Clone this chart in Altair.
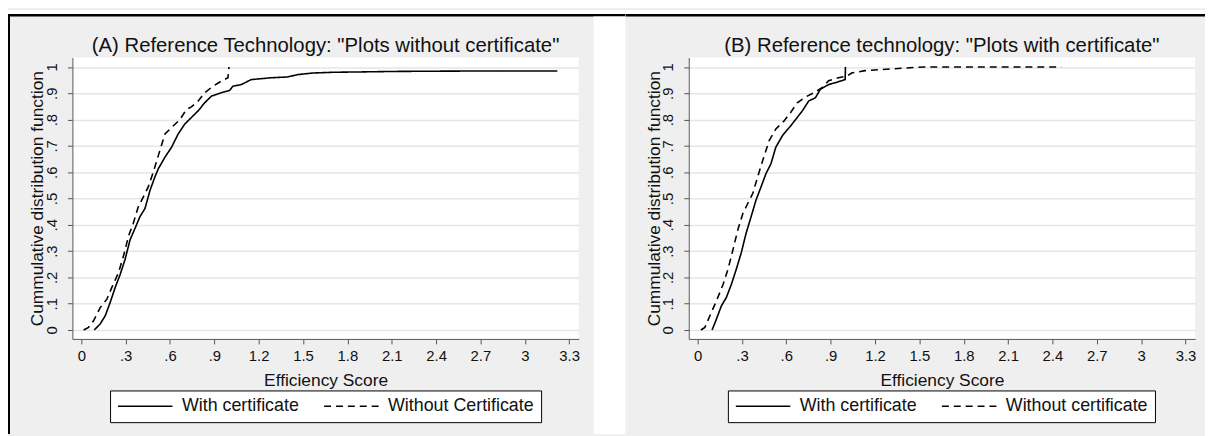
import altair as alt
import pandas as pd

# ---------------- data ----------------
x_ticks = [0, 0.3, 0.6, 0.9, 1.2, 1.5, 1.8, 2.1, 2.4, 2.7, 3.0, 3.3]
y_ticks = [0, 0.1, 0.2, 0.3, 0.4, 0.5, 0.6, 0.7, 0.8, 0.9, 1.0]

# Panel A: Reference Technology "Plots without certificate"
a_with_x = [0.088, 0.128, 0.162, 0.195, 0.229, 0.263, 0.296, 0.33, 0.364, 0.397,
            0.431, 0.465, 0.498, 0.521, 0.566, 0.611, 0.655, 0.70, 0.745, 0.79,
            0.835, 0.88, 0.947, 1.003, 1.026, 1.082, 1.149, 1.284, 1.396, 1.463,
            1.565, 1.71, 1.87, 2.1, 2.4, 2.8, 3.22]
a_with_y = [0, 0.023, 0.054, 0.104, 0.161, 0.211, 0.268, 0.343, 0.387, 0.431,
            0.462, 0.531, 0.582, 0.613, 0.657, 0.695, 0.745, 0.783, 0.808, 0.833,
            0.864, 0.889, 0.902, 0.911, 0.927, 0.933, 0.952, 0.959, 0.962, 0.971,
            0.977, 0.98, 0.981, 0.983, 0.984, 0.985, 0.985]
a_without_x = [0.016, 0.049, 0.083, 0.128, 0.173, 0.206, 0.251, 0.285, 0.319, 0.352,
               0.386, 0.42, 0.453, 0.487, 0.521, 0.566, 0.611, 0.667, 0.712, 0.745,
               0.79, 0.835, 0.891, 0.947, 0.992, 0.999]
a_without_y = [0, 0.01, 0.035, 0.085, 0.117, 0.161, 0.217, 0.28, 0.356, 0.406,
               0.469, 0.506, 0.544, 0.60, 0.663, 0.745, 0.77, 0.80, 0.839, 0.848,
               0.87, 0.902, 0.927, 0.946, 0.959, 1.0]

# Panel B: Reference technology "Plots with certificate"
b_with_x = [0.098, 0.127, 0.161, 0.194, 0.228, 0.261, 0.295, 0.328, 0.362, 0.395,
            0.429, 0.462, 0.496, 0.529, 0.574, 0.629, 0.663, 0.708, 0.752, 0.797,
            0.83, 0.886, 0.931, 0.998, 1.0]
b_with_y = [0, 0.041, 0.092, 0.123, 0.173, 0.23, 0.293, 0.368, 0.431, 0.494,
            0.544, 0.594, 0.632, 0.695, 0.739, 0.776, 0.80, 0.833, 0.871, 0.883,
            0.915, 0.933, 0.94, 0.952, 1.0]
b_without_x = [0.022, 0.049, 0.083, 0.127, 0.172, 0.205, 0.239, 0.272, 0.306, 0.339,
               0.373, 0.406, 0.44, 0.484, 0.529, 0.585, 0.629, 0.674, 0.73, 0.786,
               0.842, 0.886, 0.953, 1.009, 1.042, 1.132, 1.243, 1.40, 1.533, 2.46]
b_without_y = [0, 0.01, 0.054, 0.11, 0.173, 0.23, 0.305, 0.381, 0.443, 0.481,
               0.519, 0.582, 0.644, 0.72, 0.764, 0.795, 0.827, 0.864, 0.886, 0.902,
               0.921, 0.948, 0.959, 0.965, 0.977, 0.986, 0.99, 0.996, 1.0, 1.0]

title_a = '(A) Reference Technology: "Plots without certificate"'
title_b = '(B) Reference technology: "Plots with certificate"'
series_a = ["With certificate", "Without Certificate"]
series_b = ["With certificate", "Without certificate"]
x_title = "Efficiency Score"
y_title = "Cummulative distribution function"

# ---------------- styling ----------------
FONT = "Liberation Sans"
TXT = "#111111"
AXC = "#555555"
W, H = 511, 284
XDOM = [-0.06, 3.365]
YDOM = [-0.034, 1.036]

one = pd.DataFrame({"k": [0]})


def deco(x1, x2, y1, y2, color):
    return alt.Chart(one).mark_rect(color=color, strokeWidth=0).encode(
        x=alt.value(x1), x2=alt.value(x2), y=alt.value(y1), y2=alt.value(y2)
    )


def panel(title, names, wx, wy, nx, ny, decos, legend_x):
    df = pd.DataFrame({
        "x": wx + nx,
        "y": wy + ny,
        "series": [names[0]] * len(wx) + [names[1]] * len(nx),
        "ord": list(range(len(wx))) + list(range(len(nx))),
    })
    xaxis = alt.Axis(
        values=x_ticks,
        labelExpr="datum.value == 0 ? '0' : (datum.value < 1 ? '.' + format(datum.value * 10, '.0f') : format(datum.value, '.1~f'))",
        title=x_title, grid=False, tickSize=5, tickColor=AXC, domainColor=AXC,
        labelFont=FONT, labelFontSize=15, labelColor=TXT, labelBaseline="alphabetic",
        labelPadding=17, labelOverlap=False, labelFlush=False,
        titleFont=FONT, titleFontSize=17.5, titleFontWeight="normal", titleColor=TXT,
        titleX=W / 2, titleY=47, titleAlign="center", titleBaseline="alphabetic",
    )
    yaxis = alt.Axis(
        values=y_ticks,
        labelExpr="datum.value == 0 ? '0' : (datum.value < 1 ? '.' + format(datum.value * 10, '.0f') : '1')",
        title=y_title, grid=True, gridColor="#e6e6e6", gridWidth=1.5,
        tickSize=5, tickColor=AXC, domainColor=AXC,
        labelFont=FONT, labelFontSize=15, labelColor=TXT, labelAngle=270,
        labelAlign="center", labelBaseline="alphabetic", labelPadding=11,
        labelOverlap=False, labelFlush=False,
        titleFont=FONT, titleFontSize=17.5, titleFontWeight="normal", titleColor=TXT,
        titleAngle=270, titleX=-30, titleY=H / 2, titleAlign="center",
        titleBaseline="alphabetic",
    )
    lines = alt.Chart(df).mark_line(color="black", strokeWidth=1.6).encode(
        x=alt.X("x:Q", scale=alt.Scale(domain=XDOM, nice=False, zero=False), axis=xaxis),
        y=alt.Y("y:Q", scale=alt.Scale(domain=YDOM, nice=False, zero=False), axis=yaxis),
        strokeDash=alt.StrokeDash(
            "series:N",
            scale=alt.Scale(domain=names, range=[[1, 0], [7, 5]]),
            legend=alt.Legend(
                orient="none", legendX=legend_x, legendY=336, direction="horizontal",
                title=None, strokeColor="black", fillColor="white", padding=7,
                symbolType="M-3.4375,0H3.4375", symbolSize=256, symbolStrokeWidth=1.5,
                symbolStrokeColor="black", symbolOffset=19.5,
                labelFont=FONT, labelFontSize=18,
                labelColor=TXT, labelOffset=28, columnPadding=22, labelLimit=400,
                cornerRadius=0,
            ),
        ),
        order="ord:Q",
    )
    layers = decos + [lines]
    return alt.layer(*layers).properties(
        width=W, height=H,
        title=alt.TitleParams(
            title, font=FONT, fontSize=20.5, fontWeight="normal", color=TXT,
            anchor="middle", frame="group", offset=-63, baseline="alphabetic",
        ),
    )


left_decos = [
    deco(-65, 558, -48, -44, "white"),
    deco(-65, 558, -44, -41.5, "black"),
    deco(-65, -63, -44, 380, "black"),
    deco(526, 558, -41.5, 380, "white"),
]
right_decos = [
    deco(-63.5, 521, -48, -44, "white"),
    deco(-63.5, 521, -44, -41.5, "black"),
]

left = panel(title_a, series_a, a_with_x, a_with_y, a_without_x, a_without_y, left_decos, 38)
right = panel(title_b, series_b, b_with_x, b_with_y, b_without_x, b_without_y, right_decos, 39.5)

chart = alt.hconcat(left, right, spacing=0).resolve_scale(
    strokeDash="independent"
).resolve_legend(strokeDash="independent").properties(
    background="#efefef", padding=0
).configure_view(strokeWidth=0, fill="white")

chart.save("out.html", embed_options={"renderer": "svg", "actions": False})
